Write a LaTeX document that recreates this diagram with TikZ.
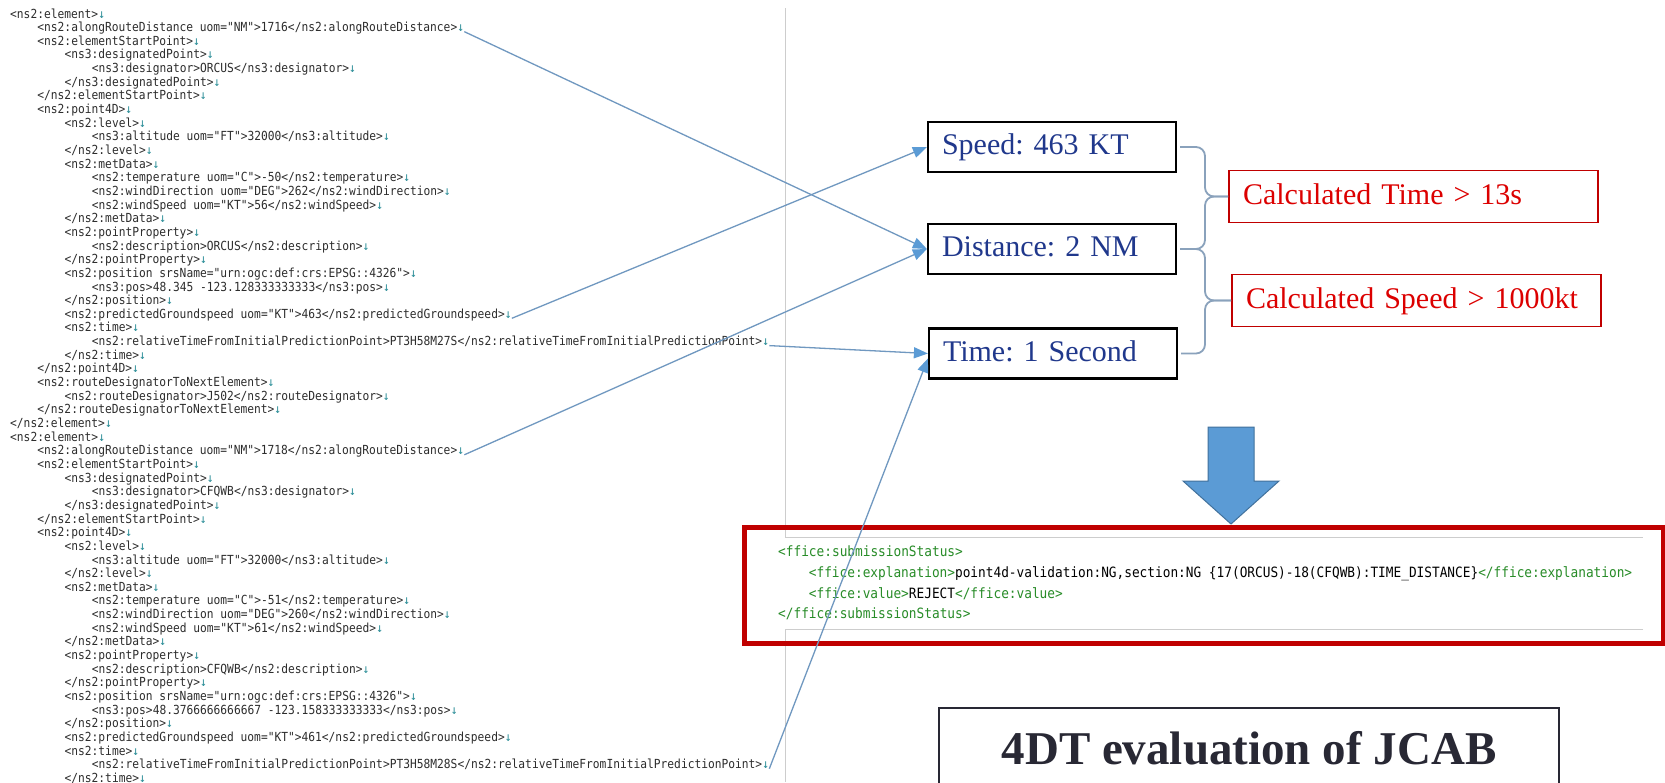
\documentclass[tikz,border=0pt]{standalone}
\usepackage{fontspec}
\setmainfont{Liberation Serif}
\newfontfamily\xmlfont[FakeStretch=0.9]{DejaVu Sans Mono}
\usetikzlibrary{arrows.meta}
\definecolor{navyblue}{RGB}{32,56,140}
\definecolor{calcred}{RGB}{220,0,0}
\definecolor{boxred}{RGB}{192,0,0}
\definecolor{linkblue}{RGB}{112,152,192}
\definecolor{tipblue}{RGB}{91,155,213}
\definecolor{bracegray}{RGB}{138,162,188}
\definecolor{retteal}{RGB}{40,140,150}
\definecolor{taggreen}{RGB}{40,140,40}
\definecolor{screengray}{RGB}{205,205,205}
\definecolor{xmlgray}{RGB}{45,45,45}
\definecolor{titlegray}{RGB}{40,40,52}
\definecolor{arrowfill}{RGB}{91,155,213}
\definecolor{arrowedge}{RGB}{65,113,156}
\newcommand{\retmark}{\textcolor{retteal}{↓}}
\newcommand{\xmltag}[1]{\textcolor{taggreen}{#1}}
\frenchspacing

\begin{document}
\begin{tikzpicture}[x=1pt,y=1pt,
    code/.style={font=\xmlfont\fontsize{12.5}{13}\selectfont,text=xmlgray,anchor=base west,inner sep=0pt},
    status/.style={font=\xmlfont\fontsize{14.2}{15}\selectfont,text=black,anchor=base west,inner sep=0pt},
    infobox/.style={draw=black,line width=2.2pt,minimum width=248pt,minimum height=50pt,text width=220pt,inner xsep=14pt,align=left,text=navyblue,font=\frenchspacing\fontsize{30}{32}\selectfont,text height=21pt,text depth=6pt},
    calcbox/.style={draw=boxred,line width=1.8pt,minimum width=369pt,minimum height=52pt,text width=341pt,inner xsep=14pt,align=left,text=calcred,font=\frenchspacing\fontsize{30}{32}\selectfont,text height=21pt,text depth=6pt},
    link/.style={draw=linkblue,line width=1.3pt,-{Triangle[length=14pt,width=11pt,color=tipblue]}},
    bracket/.style={draw=bracegray,line width=1.8pt,rounded corners=9pt},
    screen/.style={draw=screengray,line width=1pt}]
        \useasboundingbox (0,0) rectangle (1665,-782);
        \fill[white] (0,0) rectangle (1665,-782);

        \coordinate (b1) at (1052,-147);
        \coordinate (b2) at (1052,-249);
        \coordinate (b3) at (1053,-353.5);
        \coordinate (k1) at (1413.5,-196.5);
        \coordinate (k2) at (1416.5,-300.5);
        \coordinate (tipA) at (1205,-196.5);
        \coordinate (tipB) at (1205,-300.5);
        \coordinate (t1) at (1249,-707);

        \draw[screen] (785,-8) -- (785,-537) -- (1643,-537);
        \draw[screen] (1643,-629) -- (785,-629) -- (785,-782);

        \node[code] (c1) at (10,-18) {<ns2:element>\retmark};
        \node[code] (c2) at (37.2,-31.65) {<ns2:alongRouteDistance uom="NM">1716</ns2:alongRouteDistance>\retmark};
        \node[code] (c3) at (37.2,-45.3) {<ns2:elementStartPoint>\retmark};
        \node[code] (c4) at (64.4,-58.95) {<ns3:designatedPoint>\retmark};
        \node[code] (c5) at (91.6,-72.6) {<ns3:designator>ORCUS</ns3:designator>\retmark};
        \node[code] (c6) at (64.4,-86.25) {</ns3:designatedPoint>\retmark};
        \node[code] (c7) at (37.2,-99.9) {</ns2:elementStartPoint>\retmark};
        \node[code] (c8) at (37.2,-113.55) {<ns2:point4D>\retmark};
        \node[code] (c9) at (64.4,-127.2) {<ns2:level>\retmark};
        \node[code] (c10) at (91.6,-140.85) {<ns3:altitude uom="FT">32000</ns3:altitude>\retmark};
        \node[code] (c11) at (64.4,-154.5) {</ns2:level>\retmark};
        \node[code] (c12) at (64.4,-168.15) {<ns2:metData>\retmark};
        \node[code] (c13) at (91.6,-181.8) {<ns2:temperature uom="C">-50</ns2:temperature>\retmark};
        \node[code] (c14) at (91.6,-195.45) {<ns2:windDirection uom="DEG">262</ns2:windDirection>\retmark};
        \node[code] (c15) at (91.6,-209.1) {<ns2:windSpeed uom="KT">56</ns2:windSpeed>\retmark};
        \node[code] (c16) at (64.4,-222.75) {</ns2:metData>\retmark};
        \node[code] (c17) at (64.4,-236.4) {<ns2:pointProperty>\retmark};
        \node[code] (c18) at (91.6,-250.05) {<ns2:description>ORCUS</ns2:description>\retmark};
        \node[code] (c19) at (64.4,-263.7) {</ns2:pointProperty>\retmark};
        \node[code] (c20) at (64.4,-277.35) {<ns2:position srsName="urn:ogc:def:crs:EPSG::4326">\retmark};
        \node[code] (c21) at (91.6,-291) {<ns3:pos>48.345 -123.128333333333</ns3:pos>\retmark};
        \node[code] (c22) at (64.4,-304.65) {</ns2:position>\retmark};
        \node[code] (c23) at (64.4,-318.3) {<ns2:predictedGroundspeed uom="KT">463</ns2:predictedGroundspeed>\retmark};
        \node[code] (c24) at (64.4,-331.95) {<ns2:time>\retmark};
        \node[code] (c25) at (91.6,-345.6) {<ns2:relativeTimeFromInitialPredictionPoint>PT3H58M27S</ns2:relativeTimeFromInitialPredictionPoint>\retmark};
        \node[code] (c26) at (64.4,-359.25) {</ns2:time>\retmark};
        \node[code] (c27) at (37.2,-372.9) {</ns2:point4D>\retmark};
        \node[code] (c28) at (37.2,-386.55) {<ns2:routeDesignatorToNextElement>\retmark};
        \node[code] (c29) at (64.4,-400.2) {<ns2:routeDesignator>J502</ns2:routeDesignator>\retmark};
        \node[code] (c30) at (37.2,-413.85) {</ns2:routeDesignatorToNextElement>\retmark};
        \node[code] (c31) at (10,-427.5) {</ns2:element>\retmark};
        \node[code] (c32) at (10,-441.15) {<ns2:element>\retmark};
        \node[code] (c33) at (37.2,-454.8) {<ns2:alongRouteDistance uom="NM">1718</ns2:alongRouteDistance>\retmark};
        \node[code] (c34) at (37.2,-468.45) {<ns2:elementStartPoint>\retmark};
        \node[code] (c35) at (64.4,-482.1) {<ns3:designatedPoint>\retmark};
        \node[code] (c36) at (91.6,-495.75) {<ns3:designator>CFQWB</ns3:designator>\retmark};
        \node[code] (c37) at (64.4,-509.4) {</ns3:designatedPoint>\retmark};
        \node[code] (c38) at (37.2,-523.05) {</ns2:elementStartPoint>\retmark};
        \node[code] (c39) at (37.2,-536.7) {<ns2:point4D>\retmark};
        \node[code] (c40) at (64.4,-550.35) {<ns2:level>\retmark};
        \node[code] (c41) at (91.6,-564) {<ns3:altitude uom="FT">32000</ns3:altitude>\retmark};
        \node[code] (c42) at (64.4,-577.65) {</ns2:level>\retmark};
        \node[code] (c43) at (64.4,-591.3) {<ns2:metData>\retmark};
        \node[code] (c44) at (91.6,-604.95) {<ns2:temperature uom="C">-51</ns2:temperature>\retmark};
        \node[code] (c45) at (91.6,-618.6) {<ns2:windDirection uom="DEG">260</ns2:windDirection>\retmark};
        \node[code] (c46) at (91.6,-632.25) {<ns2:windSpeed uom="KT">61</ns2:windSpeed>\retmark};
        \node[code] (c47) at (64.4,-645.9) {</ns2:metData>\retmark};
        \node[code] (c48) at (64.4,-659.55) {<ns2:pointProperty>\retmark};
        \node[code] (c49) at (91.6,-673.2) {<ns2:description>CFQWB</ns2:description>\retmark};
        \node[code] (c50) at (64.4,-686.85) {</ns2:pointProperty>\retmark};
        \node[code] (c51) at (64.4,-700.5) {<ns2:position srsName="urn:ogc:def:crs:EPSG::4326">\retmark};
        \node[code] (c52) at (91.6,-714.15) {<ns3:pos>48.3766666666667 -123.158333333333</ns3:pos>\retmark};
        \node[code] (c53) at (64.4,-727.8) {</ns2:position>\retmark};
        \node[code] (c54) at (64.4,-741.45) {<ns2:predictedGroundspeed uom="KT">461</ns2:predictedGroundspeed>\retmark};
        \node[code] (c55) at (64.4,-755.1) {<ns2:time>\retmark};
        \node[code] (c56) at (91.6,-768.75) {<ns2:relativeTimeFromInitialPredictionPoint>PT3H58M28S</ns2:relativeTimeFromInitialPredictionPoint>\retmark};
        \node[code] (c57) at (64.4,-782.4) {</ns2:time>\retmark};

        \draw[boxred,line width=5pt] (744,-527) rectangle (1663,-643);
        \node[status] (s1) at (778,-556) {\xmltag{<ffice:submissionStatus>}};
        \node[status] (s2) at (808.7,-577) {\xmltag{<ffice:explanation>}point4d-validation:NG,section:NG \{17(ORCUS)-18(CFQWB):TIME\_DISTANCE\}\xmltag{</ffice:explanation>}};
        \node[status] (s3) at (808.7,-598) {\xmltag{<ffice:value>}REJECT\xmltag{</ffice:value>}};
        \node[status] (s4) at (778,-618) {\xmltag{</ffice:submissionStatus>}};

        \filldraw[fill=arrowfill,draw=arrowedge,line width=1pt] (1208,-427) -- (1254,-427) -- (1254,-481) -- (1279,-481) -- (1231,-524) -- (1183,-481) -- (1208,-481) -- cycle;

        \node[infobox] (spd) at (b1) {Speed: 463 KT};
        \node[infobox] (dst) at (b2) {Distance: 2 NM};
        \node[infobox] (tim) at (b3) {Time: 1 Second};
        \node[calcbox] (ct) at (k1) {Calculated Time > 13s};
        \node[calcbox] (cs) at (k2) {Calculated Speed > 1000kt};
        \node[draw=titlegray,line width=2pt,anchor=north,minimum width=620pt,inner ysep=21pt,text height=35pt,text depth=12pt,text=titlegray,font=\bfseries\fontsize{47}{50}\selectfont] (jcab) at (t1) {4DT evaluation of JCAB};

        \draw[bracket] ([xshift=3pt]spd.east) -| (tipA) -- (ct.west);
        \draw[bracket] ([xshift=3pt]dst.east) -| (tipA) -- (ct.west);
        \draw[bracket] ([xshift=3pt]dst.east) -| (tipB) -- (cs.west);
        \draw[bracket] ([xshift=3pt]tim.east) -| (tipB) -- (cs.west);

        \draw[link] (c2.base east) -- (dst.west);
        \draw[link] (c23.base east) -- (spd.west);
        \draw[link] (c25.base east) -- (tim.west);
        \draw[link] (c33.base east) -- (dst.west);
        \draw[link] (c56.base east) -- ([yshift=-5pt]tim.west);
    \end{tikzpicture}
\end{document}
